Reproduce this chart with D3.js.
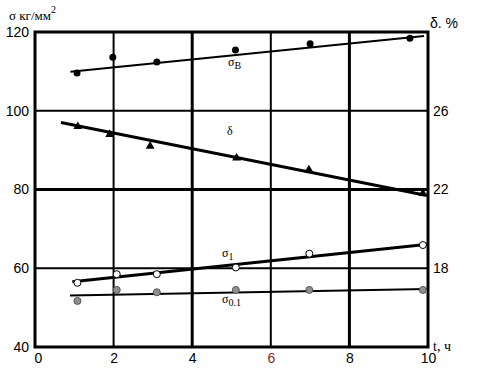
<!DOCTYPE html>
<html>
<head>
<meta charset="utf-8">
<script src="https://cdn.jsdelivr.net/npm/d3@7"></script>
<style>
  body { margin: 0; background: #fff; }
  svg { display: block; }
  .tick text { font-family: "Liberation Sans", Arial, sans-serif; fill: #000; }
  .lbl { font-family: "Liberation Serif", "Times New Roman", serif; fill: #000; }
</style>
</head>
<body>
<svg id="chart"></svg>
<script>
// series; t in hours, sigma in kg/mm2, delta in %
const sigmaBT = [1.07, 1.98, 3.1, 5.1, 7.0, 9.54];
const sigmaBV = [109.6, 113.6, 112.4, 115.4, 117.0, 118.4];
const sigmaBFitT = [0.9, 9.9];
const sigmaBFitV = [109.9, 119.0];

const deltaT = [1.09, 1.9, 2.93, 5.13, 6.97, 9.87];
const deltaV = [25.2, 24.8, 24.2, 23.6, 23.0, 21.8];
const deltaFitT = [0.66, 9.97];
const deltaFitV = [25.4, 21.7];

const sigma1T = [1.08, 2.08, 3.1, 5.11, 6.98, 9.87];
const sigma1V = [56.3, 58.5, 58.5, 60.2, 63.7, 65.9];
const sigma1FitT = [0.95, 10.0];
const sigma1FitV = [56.6, 66.1];

const sigma01T = [1.08, 2.08, 3.1, 5.11, 6.98, 9.87];
const sigma01V = [51.7, 54.5, 53.9, 54.5, 54.5, 54.5];
const sigma01FitT = [0.89, 9.97];
const sigma01FitV = [53.1, 54.7];

const xTicks = [0, 2, 4, 6, 8, 10];
const yTicks = [40, 60, 80, 100, 120];
const deltaTicks = [18, 22, 26];

const W = 492, H = 372;
const svg = d3.select("#chart").attr("width", W).attr("height", H);

const x = d3.scaleLinear().domain([0, 10]).range([35, 428]);
const y = d3.scaleLinear().domain([40, 120]).range([347, 32]);
const yd = d3.scaleLinear().domain([14, 30]).range([347, 32]);

//Grid lines, every other one is heavier
const grid = svg.append("g");
[2, 4, 6, 8].forEach(v => {
  grid.append("line")
    .attr("x1", x(v)).attr("x2", x(v))
    .attr("y1", y(120)).attr("y2", y(40))
    .attr("stroke", "#000")
    .attr("stroke-width", v % 4 === 0 ? 3 : 2);
});
[60, 80, 100].forEach(v => {
  grid.append("line")
    .attr("x1", x(0)).attr("x2", x(10))
    .attr("y1", y(v)).attr("y2", y(v))
    .attr("stroke", "#000")
    .attr("stroke-width", v === 80 ? 3 : 2);
});

//Frame
grid.append("rect")
  .attr("x", x(0)).attr("y", y(120))
  .attr("width", x(10) - x(0)).attr("height", y(40) - y(120))
  .attr("fill", "none")
  .attr("stroke", "#000")
  .attr("stroke-width", 3);

//Axes (labels only)
svg.append("g")
  .attr("transform", `translate(${x(0)},0)`)
  .call(d3.axisLeft(y).tickValues(yTicks).tickSize(0).tickPadding(6))
  .call(g => g.select(".domain").remove())
  .selectAll("text").style("font-size", "14px");

svg.append("g")
  .attr("transform", `translate(0,${y(40)})`)
  .call(d3.axisBottom(x).tickValues(xTicks).tickSize(0).tickPadding(6))
  .call(g => g.select(".domain").remove())
  .selectAll("text")
  .style("font-size", "14px")
  .attr("dx", d => d === 0 ? 3 : 0)
  .style("fill", d => d === 6 ? "#7a2a2a" : "#000");

svg.append("g")
  .attr("transform", `translate(${x(10)},0)`)
  .call(d3.axisRight(yd).tickValues(deltaTicks).tickSize(0).tickPadding(5))
  .call(g => g.select(".domain").remove())
  .selectAll("text").style("font-size", "14px");

//Fitted lines
const line = d3.line().x(d => x(d[0])).y(d => y(d[1]));
const lineD = d3.line().x(d => x(d[0])).y(d => yd(d[1]));

svg.append("path").datum(d3.zip(sigmaBFitT, sigmaBFitV))
  .attr("d", line).attr("stroke", "#000").attr("stroke-width", 2).attr("fill", "none");
svg.append("path").datum(d3.zip(deltaFitT, deltaFitV))
  .attr("d", lineD).attr("stroke", "#000").attr("stroke-width", 3).attr("fill", "none");
svg.append("path").datum(d3.zip(sigma1FitT, sigma1FitV))
  .attr("d", line).attr("stroke", "#000").attr("stroke-width", 3).attr("fill", "none");
svg.append("path").datum(d3.zip(sigma01FitT, sigma01FitV))
  .attr("d", line).attr("stroke", "#000").attr("stroke-width", 2).attr("fill", "none");

//Markers
svg.append("g").selectAll("circle")
  .data(d3.zip(sigmaBT, sigmaBV))
  .join("circle")
  .attr("cx", d => x(d[0])).attr("cy", d => y(d[1]))
  .attr("r", 3.5).attr("fill", "#000");

const tri = d3.symbol().type(d3.symbolTriangle).size(34);
svg.append("g").selectAll("path")
  .data(d3.zip(deltaT, deltaV))
  .join("path")
  .attr("d", tri)
  .attr("transform", d => `translate(${x(d[0])},${yd(d[1])})`)
  .attr("fill", "#000");

svg.append("g").selectAll("circle")
  .data(d3.zip(sigma1T, sigma1V))
  .join("circle")
  .attr("cx", d => x(d[0])).attr("cy", d => y(d[1]))
  .attr("r", 3.5).attr("fill", "#fff").attr("stroke", "#000").attr("stroke-width", 1);

svg.append("g").selectAll("circle")
  .data(d3.zip(sigma01T, sigma01V))
  .join("circle")
  .attr("cx", d => x(d[0])).attr("cy", d => y(d[1]))
  .attr("r", 3.5).attr("fill", "#8f8f8f").attr("stroke", "#555").attr("stroke-width", 1);

//Axis titles and series labels
svg.append("text").attr("class", "lbl")
  .attr("x", 9).attr("y", 20).style("font-size", "13px")
  .text("σ кг/мм")
  .append("tspan").attr("dy", -7).style("font-size", "10px").text("2");

svg.append("text").attr("class", "lbl")
  .attr("x", 430).attr("y", 28).style("font-size", "14px")
  .style("font-family", "'Liberation Sans', Arial, sans-serif")
  .text("δ. %");

svg.append("text").attr("class", "lbl")
  .attr("x", 433).attr("y", 351).style("font-size", "14px")
  .text("t, ч");

function subLabel(tx, ty, main, sub) {
  const t = svg.append("text").attr("class", "lbl")
    .attr("x", tx).attr("y", ty).style("font-size", "12px").text(main);
  if (sub) t.append("tspan").attr("dy", 3).style("font-size", "10px").text(sub);
}
subLabel(228, 66, "σ", "В");
subLabel(227, 135, "δ", null);
subLabel(222, 257, "σ", "1");
subLabel(222, 303, "σ", "0.1");
</script>
</body>
</html>
